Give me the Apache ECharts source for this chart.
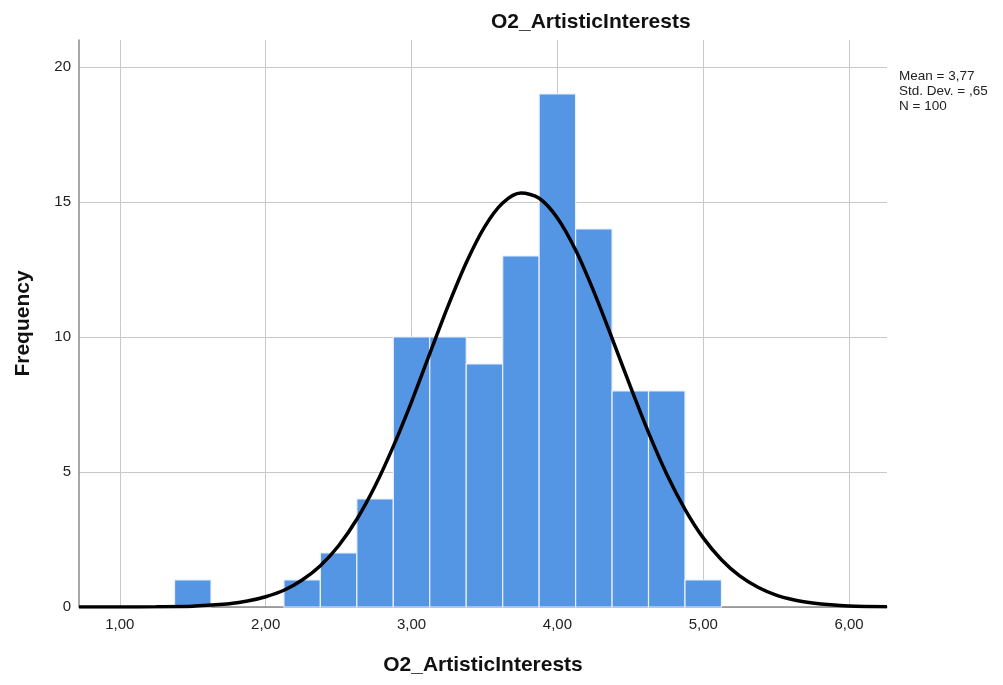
<!DOCTYPE html>
<html>
<head>
<meta charset="utf-8">
<script src="https://cdn.jsdelivr.net/npm/echarts@6/dist/echarts.min.js"></script>
<style>
html,body{margin:0;padding:0;background:#fff;}
#main{width:1003px;height:685px;}
</style>
</head>
<body>
<div id="main"></div>
<script>
// ---- data ----
var binCenters = [1.5, 2.25, 2.5, 2.75, 3.0, 3.25, 3.5, 3.75, 4.0, 4.25, 4.5, 4.75, 5.0];
var binCounts  = [1,   1,    2,   4,    10,  10,   9,   13,   19,  14,   8,   8,    1];
var binWidth = 0.25;
var curveX = [0.72, 1.0, 1.25, 1.5, 1.625, 1.75, 1.875, 2.0, 2.125, 2.25, 2.375, 2.5, 2.625, 2.75, 2.875, 3.0, 3.125, 3.25, 3.375, 3.5, 3.625, 3.75, 3.875, 4.0, 4.125, 4.25, 4.375, 4.5, 4.625, 4.75, 4.875, 5.0, 5.125, 5.25, 5.375, 5.5, 5.625, 5.75, 5.875, 6.0, 6.26];
var curveY = [0.00, 0.00, 0.01, 0.03, 0.07, 0.12, 0.22, 0.38, 0.62, 1.00, 1.53, 2.27, 3.25, 4.48, 5.95, 7.60, 9.38, 11.14, 12.75, 14.07, 14.96, 15.33, 15.14, 14.41, 13.22, 11.68, 9.95, 8.17, 6.46, 4.92, 3.62, 2.56, 1.75, 1.15, 0.73, 0.44, 0.26, 0.15, 0.08, 0.04, 0.01];
var xTicks = [1, 2, 3, 4, 5, 6];
var yTicks = [0, 5, 10, 15, 20];
var statsLines = ['Mean = 3,77', 'Std. Dev. = ,65', 'N = 100'];
var titleText = 'O2_ArtisticInterests';
var xName = 'O2_ArtisticInterests';
var yName = 'Frequency';

var barData = binCenters.map(function (c, i) { return [c, binCounts[i]]; });
var curveData = curveX.map(function (x, i) { return [x, curveY[i]]; });

var chart = echarts.init(document.getElementById('main'), null, {renderer: 'canvas'});
var FONT = 'Liberation Sans, Arial, sans-serif';
chart.setOption({
  animation: false,
  backgroundColor: '#ffffff',
  title: {
    text: titleText,
    left: 486, top: 7,
    textStyle: {fontFamily: FONT, fontSize: 21, fontWeight: 'bold', color: '#111'}
  },
  grid: {left: 79, right: 116, top: 40, bottom: 78, containLabel: false},
  xAxis: {
    type: 'value', min: 0.72, max: 6.26,
    name: xName, nameLocation: 'middle', nameGap: 48,
    nameTextStyle: {fontFamily: FONT, fontSize: 21, fontWeight: 'bold', color: '#111'},
    axisLine: {show: true, onZero: false, lineStyle: {color: '#8a8a8a', width: 1.5}},
    axisTick: {show: false, customValues: xTicks},
    axisLabel: {customValues: xTicks, margin: 10, fontFamily: FONT, fontSize: 15, color: '#222',
      formatter: function (v) { return v.toFixed(2).replace('.', ','); }},
    splitLine: {show: true, lineStyle: {color: '#c8c8c8', width: 1}}
  },
  yAxis: {
    type: 'value', min: 0, max: 21,
    name: yName, nameLocation: 'middle', nameGap: 45,
    nameTextStyle: {fontFamily: FONT, fontSize: 21, fontWeight: 'bold', color: '#111'},
    axisLine: {show: true, lineStyle: {color: '#8a8a8a', width: 1.5}},
    axisTick: {show: false, customValues: yTicks},
    axisLabel: {customValues: yTicks, margin: 8, fontFamily: FONT, fontSize: 15, color: '#222'},
    splitLine: {show: true, lineStyle: {color: '#c8c8c8', width: 1}}
  },
  graphic: [{
    type: 'text', left: 899, top: 69,
    style: {text: statsLines.join('\n'), font: '13.5px ' + FONT, fill: '#222', lineHeight: 15}
  }],
  series: [
    {
      type: 'custom',
      data: barData,
      renderItem: function (params, api) {
        var c = api.value(0), n = api.value(1);
        var p0 = api.coord([c - binWidth / 2, n]);
        var p1 = api.coord([c + binWidth / 2, 0]);
        return {
          type: 'rect',
          shape: {x: p0[0], y: p0[1], width: p1[0] - p0[0], height: p1[1] - p0[1]},
          style: {fill: '#5596e4', stroke: '#e8f0fb', lineWidth: 1.2}
        };
      },
      z: 2
    },
    {
      type: 'line',
      data: curveData,
      smooth: 0.3,
      showSymbol: false,
      lineStyle: {color: '#000', width: 3.5},
      z: 3
    }
  ]
});
</script>
</body>
</html>
